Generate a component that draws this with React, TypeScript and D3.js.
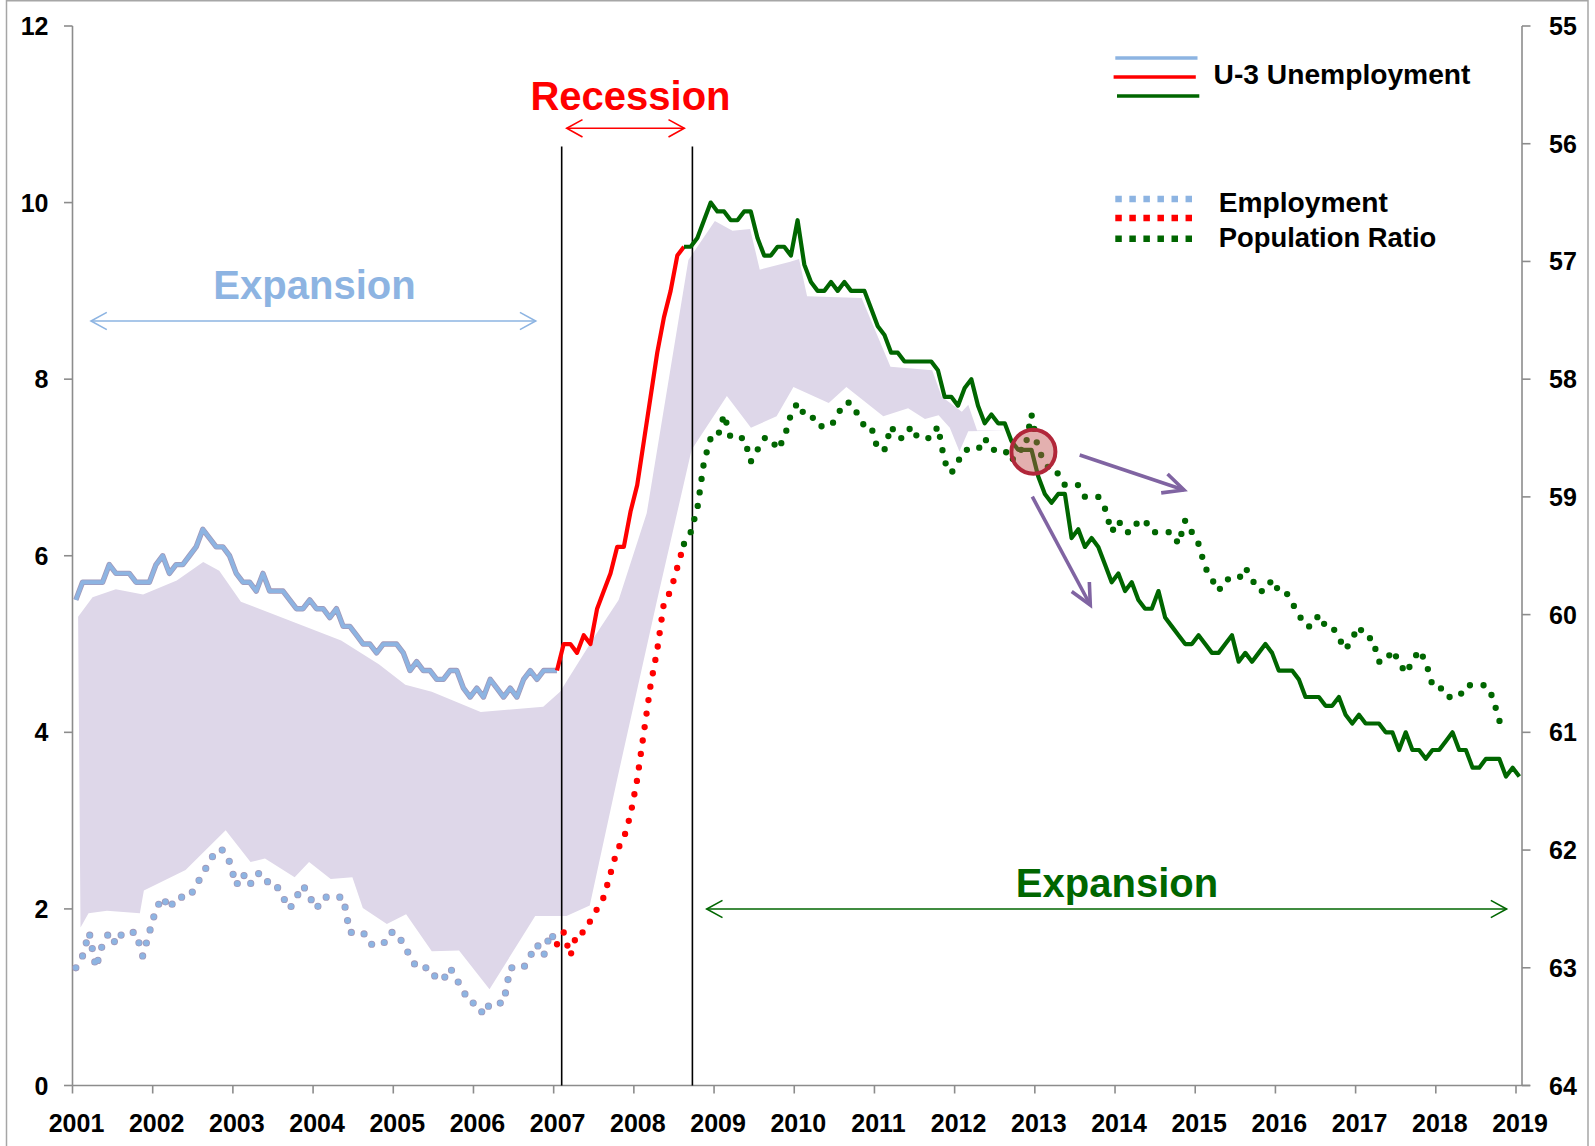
import React from "react";
import * as d3 from "d3";

// ---------- DATA ----------
// Monthly U-3 unemployment rate (left axis, %), first point plotted at the start of the axis
const U3 = [
  5.5, 5.7,
  5.7, 5.7, 5.7, 5.9, 5.8, 5.8, 5.8, 5.7, 5.7, 5.7, 5.9, 6.0,
  5.8, 5.9, 5.9, 6.0, 6.1, 6.3, 6.2, 6.1, 6.1, 6.0, 5.8, 5.7,
  5.7, 5.6, 5.8, 5.6, 5.6, 5.6, 5.5, 5.4, 5.4, 5.5, 5.4, 5.4,
  5.3, 5.4, 5.2, 5.2, 5.1, 5.0, 5.0, 4.9, 5.0, 5.0, 5.0, 4.9,
  4.7, 4.8, 4.7, 4.7, 4.6, 4.6, 4.7, 4.7, 4.5, 4.4, 4.5, 4.4,
  4.6, 4.5, 4.4, 4.5, 4.4, 4.6, 4.7, 4.6, 4.7, 4.7, 4.7, 5.0,
  5.0, 4.9, 5.1, 5.0, 5.4, 5.6, 5.8, 6.1, 6.1, 6.5, 6.8, 7.3,
  7.8, 8.3, 8.7, 9.0, 9.4, 9.5, 9.5, 9.6, 9.8, 10.0, 9.9, 9.9,
  9.8, 9.8, 9.9, 9.9, 9.6, 9.4, 9.4, 9.5, 9.5, 9.4, 9.8, 9.3,
  9.1, 9.0, 9.0, 9.1, 9.0, 9.1, 9.0, 9.0, 9.0, 8.8, 8.6, 8.5,
  8.3, 8.3, 8.2, 8.2, 8.2, 8.2, 8.2, 8.1, 7.8, 7.8, 7.7, 7.9,
  8.0, 7.7, 7.5, 7.6, 7.5, 7.5, 7.3, 7.2, 7.2, 7.2, 6.9, 6.7,
  6.6, 6.7, 6.7, 6.2, 6.3, 6.1, 6.2, 6.1, 5.9, 5.7, 5.8, 5.6,
  5.7, 5.5, 5.4, 5.4, 5.6, 5.3, 5.2, 5.1, 5.0, 5.0, 5.1, 5.0,
  4.9, 4.9, 5.0, 5.1, 4.8, 4.9, 4.8, 4.9, 5.0, 4.9, 4.7, 4.7,
  4.7, 4.6, 4.4, 4.4, 4.4, 4.3, 4.3, 4.4, 4.2, 4.1, 4.2, 4.1,
  4.1, 4.1, 4.0, 4.0, 3.8, 4.0, 3.8, 3.8, 3.7, 3.8, 3.8, 3.9,
  4.0, 3.8, 3.8, 3.6, 3.6, 3.7, 3.7, 3.7, 3.5, 3.6, 3.5,
];

// Monthly employment-population ratio (right axis, inverted)
const EPR = [
  63.0, 62.9, 62.7, 63.0, 62.8, 62.7, 62.8, 62.7, 62.7, 62.7, 62.9, 62.7, 62.5, 62.4,
  62.5, 62.4, 62.4, 62.4, 62.3, 62.2, 62.1, 62.0, 62.0, 62.1, 62.3, 62.2,
  62.3, 62.2, 62.2, 62.3, 62.3, 62.4, 62.5, 62.4, 62.3, 62.4, 62.5, 62.4,
  62.4, 62.4, 62.4, 62.7, 62.7, 62.7, 62.8, 62.8, 62.8, 62.7, 62.7, 62.8,
  62.9, 63.0, 63.0, 63.0, 63.1, 63.1, 63.0, 63.1, 63.2, 63.3, 63.3, 63.4,
  63.3, 63.3, 63.3, 63.0, 63.0, 63.0, 62.9, 62.8, 62.9, 62.7, 62.8, 62.7,
  62.9, 62.7, 62.7, 62.6, 62.5, 62.4, 62.2, 62.0, 61.9, 61.7, 61.4, 61.0,
  60.6, 60.3, 59.9, 59.8, 59.6, 59.4, 59.3, 59.1, 58.7, 58.5, 58.5, 58.3,
  58.5, 58.5, 58.5, 58.7, 58.6, 58.5, 58.5, 58.6, 58.5, 58.3, 58.2, 58.3,
  58.3, 58.4, 58.4, 58.4, 58.3, 58.2, 58.2, 58.3, 58.4, 58.4, 58.6, 58.6,
  58.4, 58.5, 58.5, 58.4, 58.5, 58.5, 58.5, 58.4, 58.7, 58.8, 58.7, 58.6,
  58.6, 58.6, 58.5, 58.6, 58.6, 58.6, 58.7, 58.6, 58.6, 58.3, 58.6, 58.7,
  58.8, 58.8, 58.9, 58.9, 58.9, 59.0, 59.0, 59.0, 59.1, 59.3, 59.2, 59.3,
  59.3, 59.2, 59.2, 59.3, 59.3, 59.3, 59.3, 59.4, 59.2, 59.3, 59.4, 59.6,
  59.7, 59.8, 59.7, 59.7, 59.7, 59.6, 59.7, 59.8, 59.8, 59.7, 59.8, 59.8,
  59.9, 60.0, 60.1, 60.1, 60.0, 60.1, 60.1, 60.2, 60.3, 60.2, 60.1, 60.2,
  60.2, 60.4, 60.4, 60.3, 60.4, 60.5, 60.4, 60.3, 60.4, 60.6, 60.6, 60.7,
  60.7, 60.7, 60.6, 60.6, 60.6, 60.6, 60.7, 60.9, 61.0,
];

// Phase split points (month indexes): expansion / recession / expansion
const PHASE_BREAKS = [0, 72, 91];
const PHASE_COLORS = ["#8DB4E2", "#FF0000", "#006600"];

const YEAR_LABELS = [
  "2001", "2002", "2003", "2004", "2005", "2006", "2007", "2008", "2009", "2010",
  "2011", "2012", "2013", "2014", "2015", "2016", "2017", "2018", "2019",
];
const LEFT_TICKS = [0, 2, 4, 6, 8, 10, 12];
const RIGHT_TICKS = [55, 56, 57, 58, 59, 60, 61, 62, 63, 64];

// Recession boundary lines (axis year positions)
const RECESSION_LINES = [2007.1, 2008.73];

// Shaded band (axis-year position, left-axis value)
const BAND_TOP_X = [2001.07, 2001.25, 2001.54, 2001.88, 2002.3, 2002.63, 2002.83, 2003.1, 2004.35, 2004.82, 2005.15, 2005.48, 2006.09, 2006.87, 2007.08, 2007.52, 2007.81, 2008.16, 2008.68, 2009.01, 2009.23, 2009.45, 2009.57, 2009.95, 2010.06, 2010.16, 2010.84, 2011.2, 2011.72, 2011.84, 2012.09, 2012.17, 2012.28, 2012.69];
const BAND_TOP_Y = [5.31, 5.53, 5.62, 5.56, 5.72, 5.93, 5.83, 5.48, 5.04, 4.77, 4.54, 4.46, 4.23, 4.29, 4.46, 5.1, 5.5, 6.48, 9.35, 9.79, 9.68, 9.7, 9.24, 9.33, 9.36, 8.94, 8.92, 8.14, 8.1, 7.8, 7.63, 7.71, 7.42, 7.42];
const BAND_BOT_X = [2001.1, 2001.2, 2001.43, 2001.84, 2001.89, 2002.41, 2002.91, 2003.22, 2003.4, 2003.77, 2003.95, 2004.22, 2004.49, 2004.62, 2004.92, 2005.16, 2005.48, 2005.82, 2006.2, 2006.77, 2007.16, 2007.45, 2007.79, 2008.29, 2008.72, 2009.16, 2009.46, 2009.78, 2009.99, 2010.43, 2010.65, 2011.11, 2011.42, 2011.63, 2011.8, 2011.94, 2012.06, 2012.17, 2012.69];
const BAND_BOT_Y = [1.79, 1.95, 1.98, 1.95, 2.21, 2.44, 2.89, 2.53, 2.57, 2.36, 2.53, 2.34, 2.36, 2.01, 1.83, 1.94, 1.52, 1.53, 1.09, 1.92, 1.92, 2.04, 3.46, 5.5, 7.2, 7.81, 7.45, 7.58, 7.91, 7.73, 7.91, 7.58, 7.67, 7.55, 7.59, 7.45, 7.18, 7.41, 7.42];

// ---------- LAYOUT ----------
const W = 1595;
const H = 1146;
const X0 = 72.5;
const X2019 = 1516;
const XR = 1522;
const YT = 26;
const YB = 1085.5;
const FONT = "'Liberation Sans', Arial, sans-serif";

const xScale = d3.scaleLinear().domain([2001, 2019]).range([X0, X2019]);
const yL = d3.scaleLinear().domain([0, 12]).range([YB, YT]);
const yR = d3.scaleLinear().domain([55, 64]).range([YT, YB]);
const monthX = (i: number) => xScale(2001 + (i + 0.5) / 12);

function chevron(x: number, y: number, angle: number, len: number, spread: number) {
  const a1 = angle + Math.PI - spread;
  const a2 = angle + Math.PI + spread;
  return `M${x + len * Math.cos(a1)},${y + len * Math.sin(a1)}L${x},${y}L${x + len * Math.cos(a2)},${y + len * Math.sin(a2)}`;
}

function DoubleArrow({ x1, x2, y, color }: { x1: number; x2: number; y: number; color: string }) {
  return (
    <g stroke={color} strokeWidth={1.6} fill="none">
      <line x1={x1} x2={x2} y1={y} y2={y} />
      <path d={chevron(x2, y, 0, 18, 0.5)} />
      <path d={chevron(x1, y, Math.PI, 18, 0.5)} />
    </g>
  );
}

function Arrow({ x1, y1, x2, y2 }: { x1: number; y1: number; x2: number; y2: number }) {
  const ang = Math.atan2(y2 - y1, x2 - x1);
  return (
    <g stroke="#8064A2" strokeWidth={3.6} fill="none" strokeLinecap="butt">
      <line x1={x1} y1={y1} x2={x2} y2={y2} />
      <path d={chevron(x2, y2, ang, 23, 0.45)} />
    </g>
  );
}

function phasePaths(vals: number[], y: (v: number) => number) {
  const ends = [...PHASE_BREAKS.slice(1), vals.length - 1];
  return PHASE_BREAKS.map((s, k) => {
    const pts = vals.slice(s, ends[k] + 1);
    const line = d3
      .line<number>()
      .x((_, i) => monthX(s + i))
      .y((d) => y(d));
    return { d: line(pts) as string, color: PHASE_COLORS[k], k };
  });
}

export default function App() {
  const u3Segments = phasePaths(U3, yL);
  const eprSegments = phasePaths(EPR, yR);

  const bandTop = BAND_TOP_X.map((x, i) => [xScale(x), yL(BAND_TOP_Y[i])]);
  const bandBot = BAND_BOT_X.map((x, i) => [xScale(x), yL(BAND_BOT_Y[i])]);
  const bandPoly = [...bandTop, ...bandBot.slice().reverse()];
  const bandD = "M" + bandPoly.map((p) => p.join(",")).join("L") + "Z";

  const dash = "0 13.6";
  const labelStyle = { fontFamily: FONT, fontWeight: 700 as const };

  return (
    <svg
      width={W}
      height={H}
      viewBox={`0 0 ${W} ${H}`}
      style={{ position: "absolute", left: 0, top: 0, background: "#fff" }}
    >
      <rect x={0} y={0} width={W} height={H} fill="#fff" />
      <rect x={6.5} y={0.75} width={1581.5} height={1160} fill="none" stroke="#A6A6A6" strokeWidth={1.5} />

      {/* band */}
      <path d={bandD} fill="#DED7E9" stroke="none" />

      {/* axes */}
      <g stroke="#8C8C8C" strokeWidth={1.6} fill="none">
        <line x1={X0} x2={X0} y1={YT} y2={YB} />
        <line x1={XR} x2={XR} y1={YT} y2={YB} />
        <line x1={X0} x2={XR + 8} y1={YB} y2={YB} />
        {LEFT_TICKS.map((t) => (
          <line key={"lt" + t} x1={X0 - 8.5} x2={X0} y1={yL(t)} y2={yL(t)} />
        ))}
        {RIGHT_TICKS.map((t) => (
          <line key={"rt" + t} x1={XR} x2={XR + 8.5} y1={yR(t)} y2={yR(t)} />
        ))}
        {YEAR_LABELS.map((y) => (
          <line key={"xt" + y} x1={xScale(+y)} x2={xScale(+y)} y1={YB} y2={YB + 8} />
        ))}
      </g>

      {/* tick labels */}
      <g {...labelStyle} fontSize={25} fill="#000">
        {LEFT_TICKS.map((t) => (
          <text key={"ll" + t} x={48.5} y={yL(t) + 9} textAnchor="end">
            {t}
          </text>
        ))}
        {RIGHT_TICKS.map((t) => (
          <text key={"rl" + t} x={1549} y={yR(t) + 9} textAnchor="start">
            {t}
          </text>
        ))}
        {YEAR_LABELS.map((y) => (
          <text key={"xl" + y} x={xScale(+y) + 4} y={1131.5} textAnchor="middle">
            {y}
          </text>
        ))}
      </g>

      {/* recession lines */}
      {RECESSION_LINES.map((r) => (
        <line key={"rl" + r} x1={xScale(r)} x2={xScale(r)} y1={146.5} y2={YB} stroke="#000" strokeWidth={1.6} />
      ))}

      {/* EPR dotted lines */}
      {eprSegments.map((s) => (
        <g key={"epr" + s.k} fill="none" strokeLinecap="round" strokeLinejoin="round" strokeDasharray={dash}>
          {s.k === 0 && <path d={s.d} stroke="#A299B9" strokeWidth={7.2} />}
          <path d={s.d} stroke={s.color} strokeWidth={s.k === 0 ? 5.6 : 6.3} />
        </g>
      ))}

      {/* U-3 lines */}
      {u3Segments.map((s) => (
        <g key={"u3" + s.k} fill="none" strokeLinejoin="round">
          {s.k === 0 && <path d={s.d} stroke="#A299B9" strokeWidth={5.4} />}
          <path d={s.d} stroke={s.color} strokeWidth={s.k === 0 ? 3.8 : 4.2} />
        </g>
      ))}

      {/* circle highlight */}
      <circle cx={1033.4} cy={451.7} r={22} fill="#C0504D" fillOpacity={0.45} stroke="#B1273A" strokeWidth={4} />

      {/* purple arrows */}
      <Arrow x1={1079.7} y1={455} x2={1184} y2={490} />
      <Arrow x1={1032.3} y1={496.7} x2={1090.3} y2={605} />

      {/* annotations */}
      <text x={630.5} y={110} textAnchor="middle" {...labelStyle} fontSize={40} fill="#FF0000">
        Recession
      </text>
      <DoubleArrow x1={566.7} x2={684.3} y={128.3} color="#FF0000" />

      <text x={314.5} y={299} textAnchor="middle" {...labelStyle} fontSize={40} fill="#8DB4E2">
        Expansion
      </text>
      <DoubleArrow x1={91} x2={535.7} y={321} color="#8DB4E2" />

      <text x={1117} y={896.7} textAnchor="middle" {...labelStyle} fontSize={40} fill="#006600">
        Expansion
      </text>
      <DoubleArrow x1={706.7} x2={1506.6} y={909} color="#006600" />

      {/* legend */}
      <g strokeWidth={3.6}>
        <line x1={1115.3} x2={1197.5} y1={58} y2={58} stroke="#8DB4E2" />
        <line x1={1113.6} x2={1195.8} y1={77} y2={77} stroke="#FF0000" />
        <line x1={1117} x2={1199.3} y1={96} y2={96} stroke="#006600" />
      </g>
      <text x={1213.6} y={83.5} {...labelStyle} fontSize={28.2} fill="#000">
        U-3 Unemployment
      </text>
      <g strokeWidth={6.5} strokeDasharray="6.5 7.55">
        <line x1={1115.3} x2={1192} y1={199} y2={199} stroke="#8DB4E2" />
        <line x1={1115.3} x2={1192} y1={218} y2={218} stroke="#FF0000" />
        <line x1={1115.3} x2={1192} y1={238.7} y2={238.7} stroke="#006600" />
      </g>
      <text x={1218.7} y={211.7} {...labelStyle} fontSize={28.2} fill="#000">
        Employment
      </text>
      <text x={1218.7} y={246.7} {...labelStyle} fontSize={27.4} fill="#000">
        Population Ratio
      </text>
    </svg>
  );
}
